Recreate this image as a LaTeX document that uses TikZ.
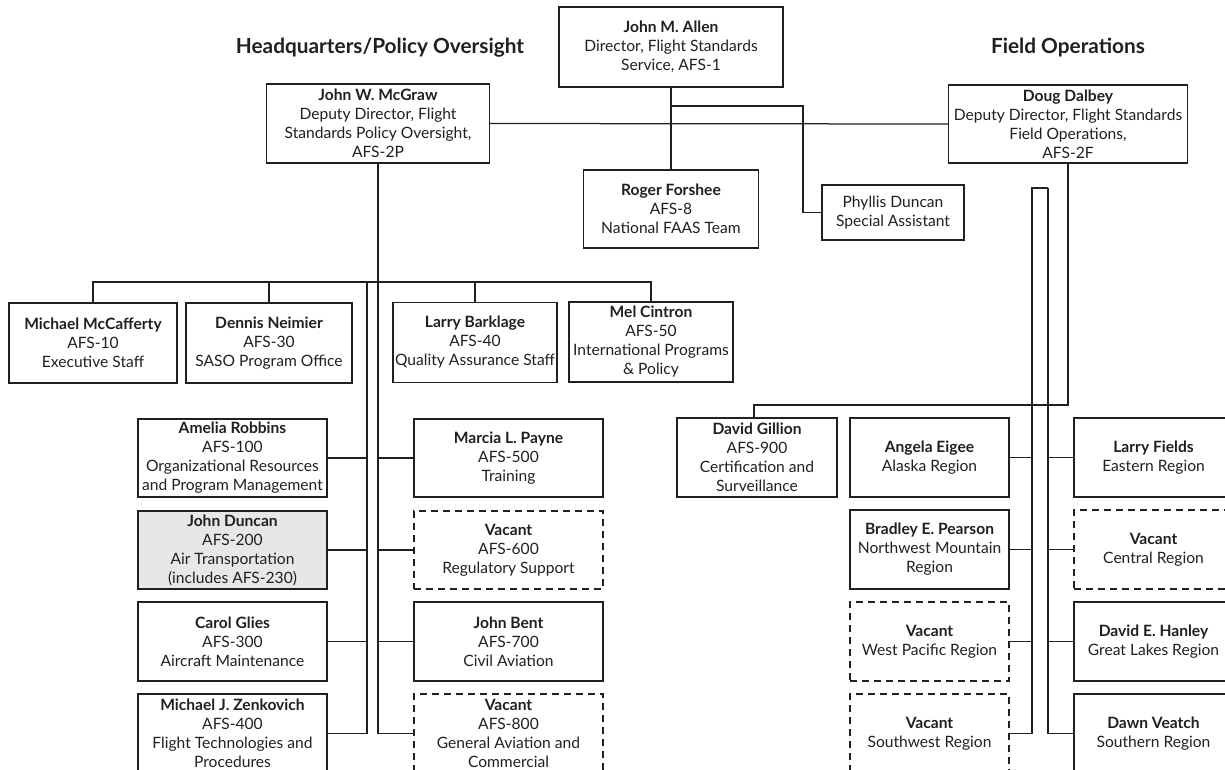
\documentclass[tikz,border=0pt]{standalone}
\usepackage{fontspec}
\setmainfont{Lato}
\definecolor{ink}{HTML}{231F20}
\definecolor{shade}{HTML}{E6E7E8}
\newcommand{\boxfont}{\fontsize{15.6}{19}\selectfont}
\newcommand{\headfont}{\fontsize{20.8}{24}\selectfont\bfseries}
\tikzset{
  orgbox/.style={draw=ink, line width=1.25pt, align=center, inner sep=0pt, text=ink, font=\boxfont},
  vacbox/.style={orgbox, dash pattern=on 7pt off 5pt},
  conn/.style={draw=ink, line width=1.25pt},
  heading/.style={text=ink, font=\headfont, inner sep=0pt}
}
\begin{document}
\begin{tikzpicture}[x=1pt,y=-1pt]
\useasboundingbox (0,0) rectangle (1225,769);
\clip (0,0) rectangle (1225,769);
\fill[white] (0,0) rectangle (1225,769);

% headings
\node[heading] (hq) at (380,48) {Headquarters/Policy Oversight};
\node[heading] (fo) at (1068,48) {Field Operations};

% top level
\node[orgbox, minimum width=224pt, minimum height=80pt] (allen) at (671,47) {\textbf{John M. Allen}\\Director, Flight Standards\\Service, AFS-1};
\node[orgbox, minimum width=223pt, minimum height=79pt] (mcgraw) at (378,123.5) {\textbf{John W. McGraw}\\Deputy Director, Flight\\Standards Policy Oversight,\\AFS-2P};
\node[orgbox, minimum width=239pt, minimum height=78pt] (dalbey) at (1068,124) {\textbf{Doug Dalbey}\\Deputy Director, Flight Standards\\Field Operations,\\AFS-2F};
\node[orgbox, minimum width=175pt, minimum height=78pt] (forshee) at (671,209) {\textbf{Roger Forshee}\\AFS-8\\National FAAS Team};
\node[orgbox, minimum width=142pt, minimum height=55pt] (phyllis) at (893,212.5) {Phyllis Duncan\\Special Assistant};

% row 1
\node[orgbox, minimum width=168pt, minimum height=80pt] (mccafferty) at (93,343) {\textbf{Michael McCafferty}\\AFS-10\\Executive Staff};
\node[orgbox, minimum width=166pt, minimum height=80pt] (neimier) at (269,343) {\textbf{Dennis Neimier}\\AFS-30\\SASO Program Office};
\node[orgbox, minimum width=164pt, minimum height=80pt] (barklage) at (475,342.5) {\textbf{Larry Barklage}\\AFS-40\\Quality Assurance Staff};
\node[orgbox, minimum width=164pt, minimum height=80pt] (cintron) at (651,342) {\textbf{Mel Cintron}\\AFS-50\\International Programs\\\& Policy};

% left column
\node[orgbox, minimum width=189pt, minimum height=78pt] (robbins) at (232.5,458) {\textbf{Amelia Robbins}\\AFS-100\\Organizational Resources\\and Program Management};
\node[orgbox, fill=shade, minimum width=189pt, minimum height=78pt] (duncan) at (232.5,550) {\textbf{John Duncan}\\AFS-200\\Air Transportation\\(includes AFS-230)};
\node[orgbox, minimum width=189pt, minimum height=79pt] (glies) at (232.5,641.5) {\textbf{Carol Glies}\\AFS-300\\Aircraft Maintenance};
\node[orgbox, minimum width=189pt, minimum height=79pt] (zenk) at (232.5,733.5) {\textbf{Michael J. Zenkovich}\\AFS-400\\Flight Technologies and\\Procedures};

% right column
\node[orgbox, minimum width=189pt, minimum height=78pt] (payne) at (508.5,458) {\textbf{Marcia L. Payne}\\AFS-500\\Training};
\node[vacbox, minimum width=189pt, minimum height=78pt] (v600) at (508.5,550) {\textbf{Vacant}\\AFS-600\\Regulatory Support};
\node[orgbox, minimum width=189pt, minimum height=79pt] (bent) at (508.5,641.5) {\textbf{John Bent}\\AFS-700\\Civil Aviation};
\node[vacbox, minimum width=189pt, minimum height=79pt] (v800) at (508.5,733.5) {\textbf{Vacant}\\AFS-800\\General Aviation and\\Commercial};

% field operations
\node[orgbox, minimum width=160pt, minimum height=79pt] (gillion) at (757,457.5) {\textbf{David Gillion}\\AFS-900\\Certification and\\Surveillance};
\node[orgbox, minimum width=159pt, minimum height=79pt] (eigee) at (929.5,457.5) {\textbf{Angela Eigee}\\Alaska Region};
\node[orgbox, minimum width=159pt, minimum height=79pt] (pearson) at (929.5,549.5) {\textbf{Bradley E. Pearson}\\Northwest Mountain\\Region};
\node[vacbox, minimum width=159pt, minimum height=79pt] (westpac) at (929.5,641.5) {\textbf{Vacant}\\West Pacific Region};
\node[vacbox, minimum width=159pt, minimum height=79pt] (southwest) at (929.5,733.5) {\textbf{Vacant}\\Southwest Region};
\node[orgbox, minimum width=159pt, minimum height=79pt] (fields) at (1153.5,457.5) {\textbf{Larry Fields}\\Eastern Region};
\node[vacbox, minimum width=159pt, minimum height=79pt] (central) at (1153.5,549.5) {\textbf{Vacant}\\Central Region};
\node[orgbox, minimum width=159pt, minimum height=79pt] (hanley) at (1153.5,641.5) {\textbf{David E. Hanley}\\Great Lakes Region};
\node[orgbox, minimum width=159pt, minimum height=79pt] (veatch) at (1153.5,733.5) {\textbf{Dawn Veatch}\\Southern Region};

% junction coordinates
\coordinate (pa) at (803,106);
\coordinate (bus) at (378,282);
\coordinate (lv) at (367,282);
\coordinate (gj) at (754,405);
\coordinate (fl) at (1032,188);
\coordinate (fr) at (1048,188);

% top connectors
\draw[conn] (mcgraw.east) -- (dalbey.west);
\draw[conn] (allen.south) -- (forshee.north);
\draw[conn] (allen.south |- pa) -- (pa) |- (phyllis.west);

% HQ connectors
\draw[conn] (mcgraw.south) |- (v800.west);
\draw[conn] (mccafferty.north) |- (bus) -| (cintron.north);
\draw[conn] (neimier.north) -- (neimier.north |- bus);
\draw[conn] (barklage.north) -- (barklage.north |- bus);
\draw[conn] (lv) |- (zenk.east);
\draw[conn] (robbins.east) -- (robbins.east -| lv);
\draw[conn] (duncan.east) -- (duncan.east -| lv);
\draw[conn] (glies.east) -- (glies.east -| lv);
\draw[conn] (payne.west) -- (payne.west -| bus);
\draw[conn] (v600.west) -- (v600.west -| bus);
\draw[conn] (bent.west) -- (bent.west -| bus);

% field connectors
\draw[conn] (dalbey.south) |- (gj) -- (gj |- gillion.north);
\draw[conn] (fr) -- (fl) |- (southwest.east);
\draw[conn] (fr) |- (veatch.west);
\draw[conn] (eigee.east) -- (eigee.east -| fl);
\draw[conn] (pearson.east) -- (pearson.east -| fl);
\draw[conn] (westpac.east) -- (westpac.east -| fl);
\draw[conn] (fields.west) -- (fields.west -| fr);
\draw[conn] (central.west) -- (central.west -| fr);
\draw[conn] (hanley.west) -- (hanley.west -| fr);
\end{tikzpicture}
\end{document}
